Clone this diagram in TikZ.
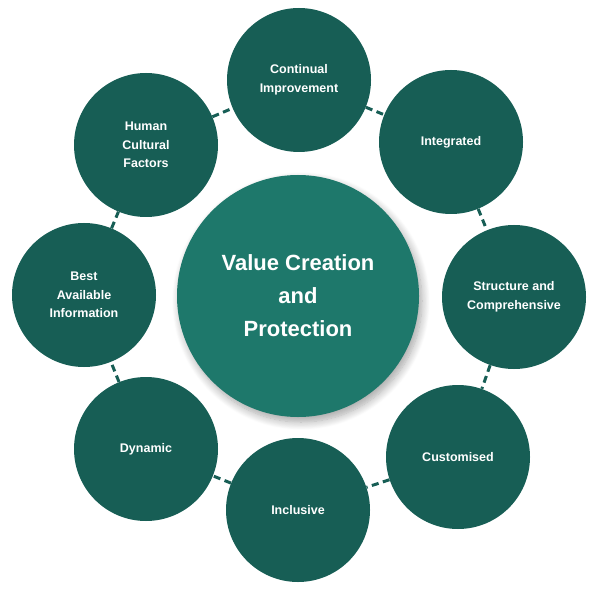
\documentclass[tikz,border=0pt]{standalone}
\usepackage{fontspec}
\setmainfont{Liberation Sans}
\usetikzlibrary{shadows.blur}
\definecolor{tealdark}{HTML}{175E55}
\definecolor{teallight}{HTML}{1E786B}
\tikzset{%
hub/.style={circle,fill=teallight,text=white,minimum size=242pt,inner sep=0pt,align=center,
            font=\fontsize{22}{33}\selectfont\bfseries,
            blur shadow={shadow xshift=3pt,shadow yshift=-5pt,shadow blur steps=10,shadow blur radius=8pt,shadow opacity=35}},
item/.style={circle,fill=tealdark,text=white,minimum size=144pt,inner sep=0pt,align=center,
             font=\fontsize{12.5}{18.5}\selectfont\bfseries},
link/.style={tealdark,line width=3pt,dash pattern=on 7pt off 4.5pt}
}

\begin{document}
\begin{tikzpicture}[x=1pt,y=-1pt]
\useasboundingbox (0,0) rectangle (593,601);
%%
\node[hub] (hub) at (298,296) {Value Creation\\and\\Protection};
%%
\foreach \txt/\name/\i/\j in {Continual\\Improvement/improve/299/80,
                              Integrated/integr/451/142,
                              Structure and\\Comprehensive/struct/514/297,
                              Customised/custom/458/457,
                              Inclusive/inclus/298/510,
                              Dynamic/dynam/146/449,
                              Best\\Available\\Information/info/84/295,
                              Human\\Cultural\\Factors/human/146/145%
                             }
     \node[item] (\name) at (\i,\j) {\txt};
%%
\foreach \a/\b in {improve/integr,integr/struct,struct/custom,custom/inclus,
                   inclus/dynam,dynam/info,info/human,human/improve}
     \draw[link] (\a) -- (\b);
\end{tikzpicture}
\end{document}
